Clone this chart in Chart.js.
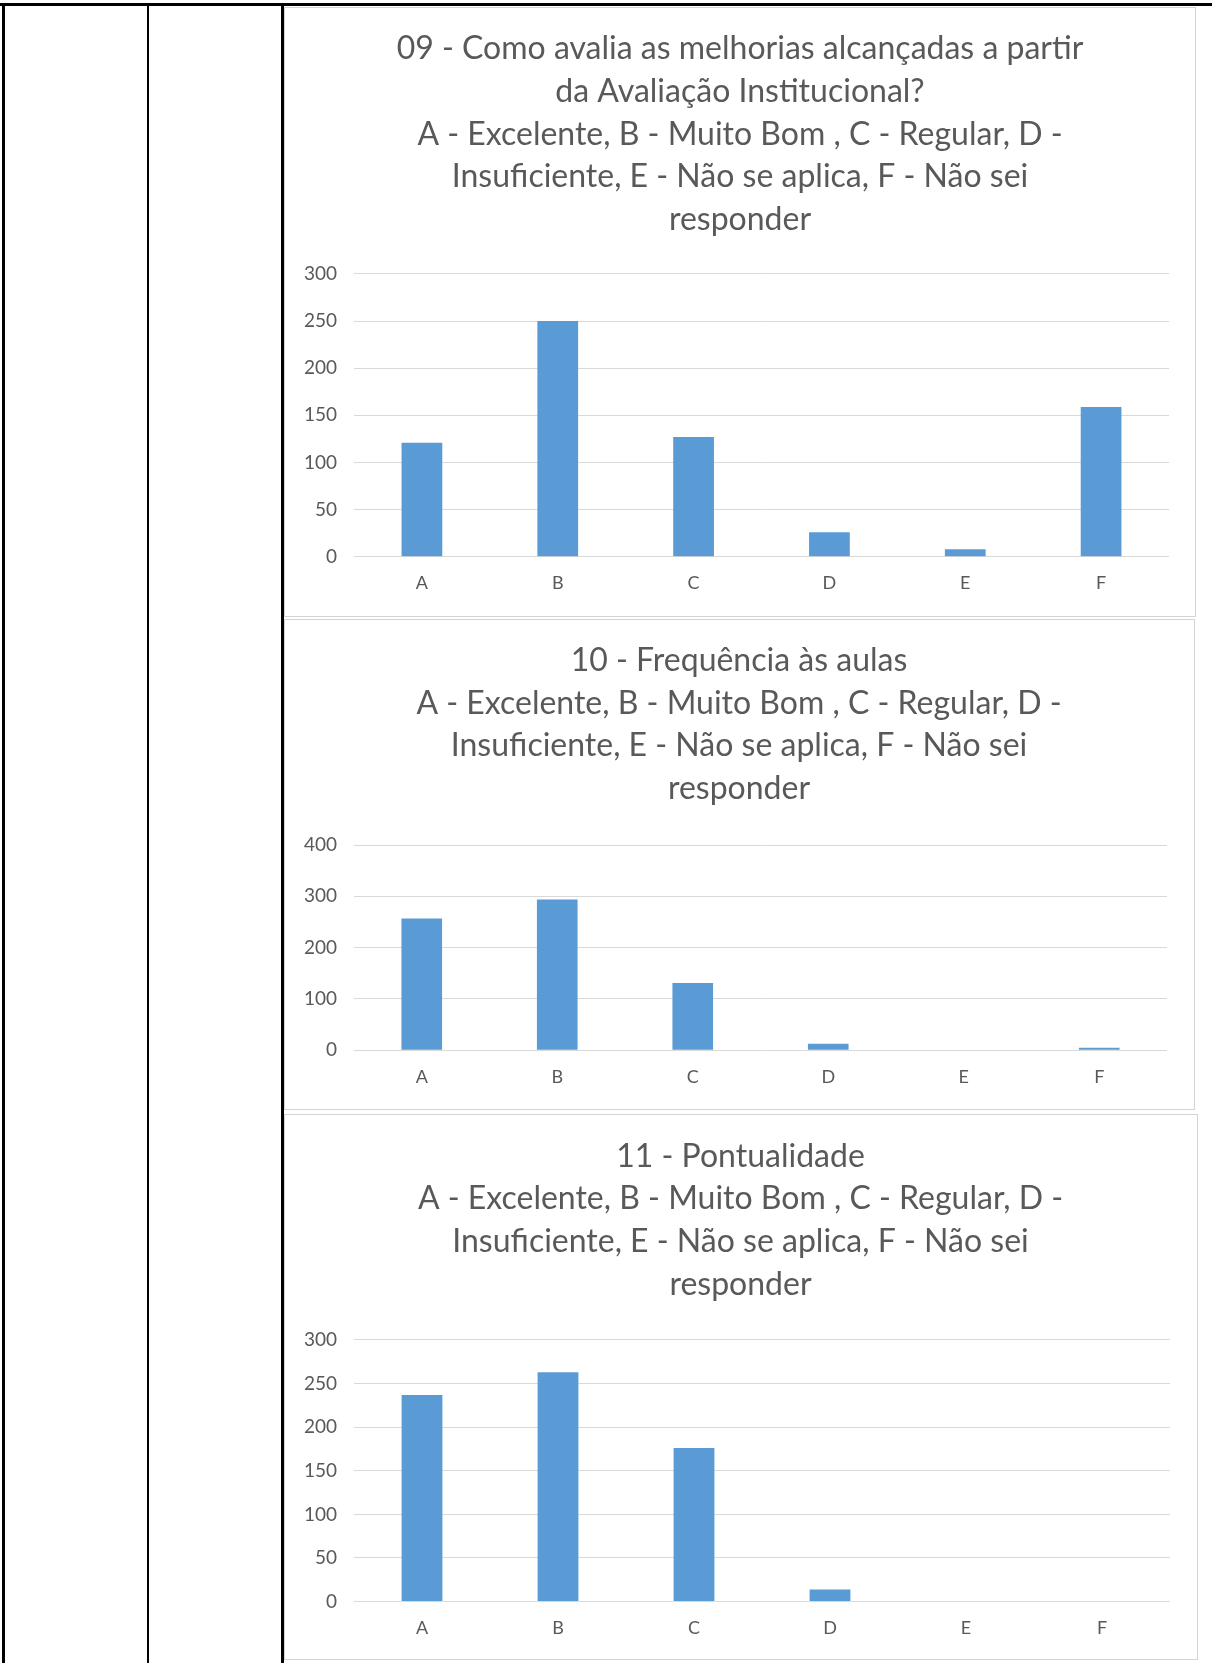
<!DOCTYPE html>
<html lang="pt">
<head>
<meta charset="utf-8">
<title>Avaliação Institucional</title>
<script src="https://cdn.jsdelivr.net/npm/chart.js@4.4.1/dist/chart.umd.min.js"></script>
<style>
  html, body { margin: 0; padding: 0; background: #fff; }
  body { position: relative; width: 1212px; height: 1663px; overflow: hidden; font-family: Lato, sans-serif; }
  .rule { position: absolute; background: #000; }
  .frame { position: absolute; box-sizing: border-box; border: 1px solid #d4d4d4; background: #fff; }
  .frame canvas { display: block; }
</style>
</head>
<body>
<!-- table borders -->
<div class="rule" style="left:0;top:3px;width:1212px;height:3px"></div>
<div class="rule" style="left:2px;top:3px;width:3px;height:1660px"></div>
<div class="rule" style="left:147px;top:3px;width:2px;height:1660px"></div>
<div class="rule" style="left:281px;top:3px;width:3px;height:1660px"></div>

<div class="frame" style="left:284px;top:7px;width:912px;height:610px"><canvas id="chart-q09"></canvas></div>
<div class="frame" style="left:284px;top:619px;width:911px;height:491px"><canvas id="chart-q10"></canvas></div>
<div class="frame" style="left:284px;top:1114px;width:914px;height:546px"><canvas id="chart-q11"></canvas></div>

<script>
// ── Data ────────────────────────────────────────────────────
const categories = ["A", "B", "C", "D", "E", "F"];

const q09Values = [121, 250, 127, 26, 8, 159];
const q10Values = [257, 294, 131, 13, 0, 5];
const q11Values = [237, 263, 176, 14, 0, 0];

const legendLines = [
  "A - Excelente, B - Muito Bom , C - Regular, D -",
  "Insuficiente, E - Não se aplica, F - Não sei",
  "responder",
];
const q09Title = ["09 - Como avalia as melhorias alcançadas a partir", "da Avaliação Institucional?", ...legendLines];
const q10Title = ["10 - Frequência às aulas", ...legendLines];
const q11Title = ["11 - Pontualidade", ...legendLines];

const q09Ticks = { max: 300, step: 50 };
const q10Ticks = { max: 400, step: 100 };
const q11Ticks = { max: 300, step: 50 };

// ── Chart builder ──────────────────────────────────────────
const TEXT = "#595959";
const GRID = "#d9d9d9";
const BAR = "#5b9bd5";

// Excel centres the title over the plot, not the whole canvas: nudge it right
const titleShift = {
  id: "titleShift",
  afterLayout(chart) {
    if (!chart.titleBlock) return;
    chart.titleBlock.left += 13;
    chart.titleBlock.right += 13;
  },
};

function drawChart(id, values, title, ticks, box) {
  const canvas = document.getElementById(id);
  const frame = canvas.parentElement;
  canvas.width = frame.clientWidth;
  canvas.height = frame.clientHeight;

  return new Chart(canvas, {
    type: "bar",
    data: {
      labels: categories,
      datasets: [{
        data: values,
        backgroundColor: BAR,
        borderWidth: 0,
        barPercentage: 0.3,
        categoryPercentage: 1,
      }],
    },
    options: {
      responsive: false,
      animation: false,
      layout: { padding: { top: 0, left: 0, right: box.right, bottom: box.bottom } },
      plugins: {
        legend: { display: false },
        tooltip: { enabled: false },
        title: {
          display: true,
          text: title,
          color: TEXT,
          font: { family: "Lato", size: 32, weight: "normal", lineHeight: 1.334 },
          padding: { top: box.titleTop, bottom: box.titleBottom },
        },
      },
      scales: {
        x: {
          grid: { display: false, drawTicks: false },
          border: { display: false },
          ticks: { color: TEXT, font: { family: "Lato", size: 18 }, padding: 16 },
        },
        y: {
          min: 0,
          max: ticks.max,
          grid: { color: GRID, lineWidth: 1, drawTicks: false },
          border: { display: false },
          ticks: { stepSize: ticks.step, color: TEXT, font: { family: "Lato", size: 19 }, padding: 17 },
          afterFit: (scale) => { scale.width = 69; },
        },
      },
    },
    plugins: [titleShift],
  });
}

drawChart("chart-q09", q09Values, q09Title, q09Ticks, { right: 26, bottom: 5.6, titleTop: 19.5, titleBottom: 33 });
drawChart("chart-q10", q10Values, q10Title, q10Ticks, { right: 27, bottom: 5.1, titleTop: 19.3, titleBottom: 35 });
drawChart("chart-q11", q11Values, q11Title, q11Ticks, { right: 27, bottom: 3.8, titleTop: 20, titleBottom: 34.2 });
</script>
</body>
</html>
